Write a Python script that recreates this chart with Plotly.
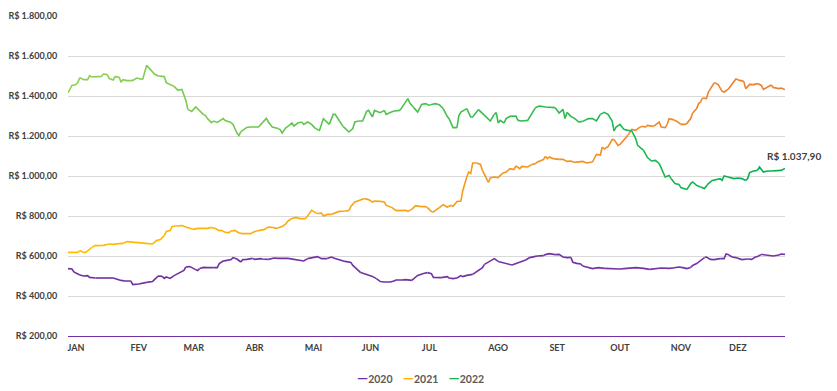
import plotly.graph_objects as go

# Daily average price, (day of year, R$) pairs, one list per year
PRICE_2020 = [
    (0, 537), (2, 535), (3, 520), (5, 512), (6, 505), (8, 500), (10, 502), (11, 493), (14, 490),
    (16, 490), (19, 488), (21, 488), (23, 490), (26, 478), (27, 478), (29, 475), (32, 475),
    (33, 457), (36, 460), (38, 465), (40, 468), (43, 472), (44, 482), (46, 500), (48, 498),
    (49, 488), (50, 495), (52, 488), (54, 502), (55, 507), (57, 517), (59, 528), (60, 545),
    (62, 547), (64, 537), (66, 527), (67, 537), (69, 543), (71, 542), (72, 543), (74, 542),
    (76, 542), (77, 562), (79, 575), (81, 578), (83, 582), (84, 592), (86, 585), (88, 570),
    (89, 582), (91, 583), (93, 585), (94, 588), (95, 583), (98, 587), (99, 585), (102, 583),
    (105, 590), (107, 588), (110, 587), (112, 588), (115, 583), (117, 578), (120, 575),
    (122, 587), (125, 592), (127, 597), (129, 587), (132, 587), (134, 595), (136, 587),
    (138, 580), (141, 573), (144, 568), (145, 553), (147, 533), (149, 517), (151, 510),
    (153, 505), (155, 498), (157, 487), (159, 472), (161, 470), (164, 470), (166, 475),
    (167, 480), (170, 480), (172, 482), (175, 478), (177, 492), (178, 503), (181, 513),
    (183, 517), (185, 512), (186, 493), (188, 492), (190, 492), (193, 497), (194, 490),
    (196, 487), (198, 490), (200, 502), (201, 497), (203, 503), (206, 508), (207, 515),
    (209, 527), (211, 542), (212, 558), (214, 570), (216, 580), (217, 587), (219, 573),
    (221, 568), (222, 568), (224, 562), (226, 555), (228, 562), (229, 568), (231, 575),
    (233, 580), (235, 592), (238, 598), (239, 600), (242, 602), (243, 607), (245, 612),
    (247, 608), (248, 607), (250, 608), (252, 595), (254, 592), (256, 593), (257, 568),
    (259, 563), (261, 560), (262, 550), (265, 542), (267, 537), (270, 542), (273, 538),
    (275, 537), (278, 537), (281, 535), (283, 537), (286, 540), (289, 542), (293, 538),
    (296, 533), (299, 538), (302, 540), (306, 538), (308, 540), (311, 545), (313, 542),
    (315, 537), (317, 543), (318, 553), (320, 562), (322, 575), (324, 592), (325, 595),
    (327, 583), (329, 582), (332, 587), (334, 587), (335, 610), (336, 608), (338, 595),
    (340, 592), (343, 582), (345, 582), (346, 585), (348, 583), (350, 595), (351, 598),
    (353, 608), (355, 605), (357, 605), (359, 600), (362, 605), (363, 610), (365, 608),
]

PRICE_2021 = [
    (0, 618), (2, 618), (4, 615), (5, 618), (6, 627), (8, 618), (9, 618), (11, 633), (12, 642),
    (14, 653), (15, 652), (18, 653), (21, 660), (23, 658), (26, 662), (28, 663), (30, 672),
    (32, 670), (36, 668), (38, 665), (41, 662), (43, 660), (45, 677), (47, 682), (49, 702),
    (50, 723), (52, 727), (53, 748), (55, 750), (58, 752), (60, 745), (62, 737), (64, 733),
    (66, 738), (68, 738), (71, 738), (73, 743), (75, 737), (77, 727), (78, 728), (80, 718),
    (82, 717), (83, 725), (85, 728), (87, 715), (89, 712), (93, 712), (94, 718), (96, 725),
    (99, 732), (100, 733), (102, 745), (104, 743), (106, 738), (109, 747), (111, 762),
    (112, 775), (114, 788), (116, 793), (118, 787), (121, 787), (122, 800), (124, 828),
    (126, 817), (127, 812), (129, 815), (130, 800), (132, 808), (134, 808), (136, 817),
    (138, 823), (141, 825), (143, 827), (144, 848), (146, 870), (149, 878), (151, 887),
    (153, 882), (155, 870), (156, 875), (159, 873), (161, 870), (162, 853), (165, 842),
    (167, 827), (170, 828), (172, 828), (173, 823), (175, 833), (177, 852), (179, 848),
    (182, 847), (183, 842), (185, 822), (186, 820), (188, 837), (189, 842), (191, 857),
    (193, 845), (195, 853), (196, 848), (198, 873), (200, 875), (201, 928), (203, 995),
    (204, 1020), (205, 1012), (206, 1065), (208, 1065), (210, 1058), (211, 1028), (213, 987),
    (214, 968), (215, 990), (217, 995), (219, 992), (221, 1012), (223, 1020), (225, 1037),
    (227, 1032), (228, 1050), (230, 1037), (231, 1048), (234, 1045), (236, 1057), (238, 1062),
    (239, 1070), (242, 1082), (243, 1098), (244, 1087), (245, 1095), (247, 1087), (250, 1083),
    (252, 1083), (254, 1073), (256, 1075), (258, 1068), (260, 1072), (262, 1073), (264, 1065),
    (267, 1070), (268, 1087), (269, 1108), (271, 1105), (272, 1145), (273, 1135), (275, 1148),
    (277, 1182), (278, 1182), (280, 1153), (281, 1158), (284, 1192), (285, 1203), (287, 1233),
    (289, 1228), (290, 1237), (292, 1248), (294, 1245), (295, 1253), (297, 1248), (298, 1248),
    (301, 1270), (302, 1245), (304, 1242), (305, 1258), (306, 1287), (308, 1282), (310, 1273),
    (312, 1258), (314, 1258), (315, 1262), (317, 1287), (318, 1315), (320, 1337), (321, 1362),
    (322, 1370), (323, 1390), (325, 1387), (326, 1420), (328, 1448), (329, 1467), (331, 1457),
    (333, 1423), (334, 1420), (336, 1433), (338, 1462), (340, 1485), (342, 1478), (344, 1473),
    (345, 1437), (347, 1458), (349, 1457), (351, 1462), (353, 1453), (354, 1433), (356, 1445),
    (358, 1455), (359, 1442), (362, 1437), (363, 1440), (365, 1432),
]

PRICE_2022 = [
    (0, 1415), (2, 1453), (4, 1457), (5, 1467), (6, 1492), (8, 1482), (10, 1482), (11, 1502),
    (12, 1495), (15, 1498), (17, 1498), (18, 1510), (20, 1507), (21, 1487), (23, 1480),
    (24, 1497), (26, 1495), (27, 1469), (28, 1482), (30, 1477), (32, 1477), (33, 1478),
    (35, 1490), (36, 1488), (38, 1482), (40, 1553), (42, 1532), (44, 1510), (46, 1500),
    (49, 1497), (50, 1467), (52, 1457), (54, 1448), (56, 1428), (58, 1433), (60, 1378),
    (61, 1333), (63, 1323), (65, 1345), (67, 1328), (69, 1307), (70, 1302), (71, 1287),
    (73, 1267), (74, 1275), (76, 1268), (79, 1287), (80, 1277), (83, 1267), (84, 1258),
    (86, 1215), (87, 1202), (88, 1222), (91, 1243), (93, 1245), (97, 1245), (99, 1267),
    (101, 1288), (102, 1270), (104, 1245), (107, 1237), (108, 1232), (109, 1215), (111, 1242),
    (112, 1248), (114, 1265), (115, 1250), (117, 1265), (119, 1270), (120, 1258), (122, 1270),
    (124, 1258), (126, 1237), (128, 1228), (130, 1287), (132, 1270), (133, 1258), (135, 1308),
    (136, 1308), (138, 1275), (140, 1248), (143, 1220), (145, 1237), (146, 1270), (148, 1275),
    (150, 1275), (152, 1323), (153, 1328), (155, 1295), (156, 1328), (158, 1320), (159, 1317),
    (161, 1328), (162, 1308), (164, 1317), (166, 1325), (169, 1328), (171, 1358), (173, 1387),
    (174, 1365), (176, 1342), (178, 1320), (180, 1358), (182, 1362), (184, 1353), (185, 1358),
    (187, 1362), (189, 1357), (191, 1337), (193, 1298), (194, 1287), (196, 1242), (198, 1242),
    (199, 1303), (200, 1320), (202, 1332), (203, 1337), (205, 1295), (206, 1295), (208, 1320),
    (209, 1332), (211, 1312), (213, 1292), (215, 1275), (217, 1308), (218, 1317), (219, 1265),
    (220, 1278), (222, 1265), (223, 1287), (225, 1298), (228, 1300), (229, 1278), (231, 1275),
    (234, 1278), (236, 1307), (238, 1342), (240, 1350), (243, 1345), (245, 1345), (248, 1342),
    (250, 1315), (252, 1333), (253, 1287), (254, 1318), (256, 1298), (258, 1287), (260, 1270),
    (262, 1273), (265, 1287), (267, 1287), (269, 1275), (271, 1308), (273, 1318), (275, 1307),
    (277, 1275), (278, 1225), (279, 1245), (281, 1258), (283, 1233), (285, 1228), (287, 1225),
    (289, 1187), (290, 1153), (293, 1128), (295, 1092), (297, 1075), (299, 1078), (301, 1062),
    (302, 1037), (304, 995), (306, 1003), (307, 987), (309, 962), (311, 958), (312, 942),
    (315, 932), (317, 962), (318, 970), (320, 953), (322, 945), (324, 937), (326, 962),
    (328, 978), (330, 982), (332, 987), (333, 978), (334, 1000), (336, 995), (339, 987),
    (341, 990), (343, 987), (345, 978), (346, 987), (347, 1017), (349, 1025), (351, 1028),
    (352, 1045), (354, 1020), (356, 1025), (358, 1025), (361, 1025), (363, 1028), (365, 1037.90),
]

YEARS = ["2020", "2021", "2022"]
SERIES = {"2020": PRICE_2020, "2021": PRICE_2021, "2022": PRICE_2022}

# start / end colour of each year's line (drawn as a left-to-right gradient)
COLOR_RAMPS = {
    "2020": ("#7030A0", "#7434A6"),
    "2021": ("#FFC000", "#ED7D31"),
    "2022": ("#92D050", "#00B050"),
}
LEGEND_COLORS = {"2020": "#7030A0", "2021": "#FFB000", "2022": "#13B44C"}

MONTHS = ["JAN", "FEV", "MAR", "ABR", "MAI", "JUN", "JUL", "AGO", "SET", "OUT", "NOV", "DEZ"]
MONTH_TICK_DAYS = [4, 36, 64, 95, 125, 154, 184, 219, 249, 281, 312, 341]
Y_TICKS = [200, 400, 600, 800, 1000, 1200, 1400, 1600, 1800]

FONT = "Lato"
TEXT_COLOR = "#404040"


def brl(value):
    """Format a number as Brazilian currency, e.g. R$ 1.037,90."""
    s = f"{value:,.2f}"
    return "R$ " + s.replace(",", "#").replace(".", ",").replace("#", ".")


def mix(c1, c2, t):
    a = [int(c1[i:i + 2], 16) for i in (1, 3, 5)]
    b = [int(c2[i:i + 2], 16) for i in (1, 3, 5)]
    return "#" + "".join(f"{round(x + (y - x) * t):02X}" for x, y in zip(a, b))


fig = go.Figure()

CHUNK = 4
for year in YEARS:
    pts = SERIES[year]
    start, end = COLOR_RAMPS[year]
    for i in range(0, len(pts) - 1, CHUNK):
        seg = pts[i:i + CHUNK + 1]
        xs = [p[0] for p in seg]
        ys = [p[1] for p in seg]
        t = (sum(xs) / len(xs)) / 365
        fig.add_trace(go.Scatter(
            x=xs, y=ys, mode="lines",
            line=dict(color=mix(start, end, t), width=1.6),
            showlegend=False, hoverinfo="skip",
        ))

# compact legend: a short coloured dash in front of each year
legend_html = "\u00a0\u00a0\u00a0\u00a0".join(
    f"<span style='color:{LEGEND_COLORS[y]};font-size:14px'>\u2014</span>{y}" for y in YEARS
)
fig.add_annotation(
    xref="paper", yref="paper", x=0.4916, y=-0.131, xanchor="center", yanchor="middle",
    text=legend_html, showarrow=False,
    font=dict(family=FONT, size=10.5, color="#595959", weight="bold"),
)

# value label at the last point of the current year
last_day, last_price = PRICE_2022[-1]
fig.add_annotation(
    x=last_day, y=last_price, text=brl(last_price), showarrow=False,
    xanchor="center", yanchor="bottom", xshift=9, yshift=4,
    font=dict(family=FONT, size=10, color=TEXT_COLOR, weight="bold"),
)

fig.update_layout(
    width=837, height=391,
    margin=dict(l=68, r=52, t=16, b=55, autoexpand=False),
    paper_bgcolor="white", plot_bgcolor="white",
    showlegend=False,
    xaxis=dict(
        range=[0, 365], tickmode="array", tickvals=MONTH_TICK_DAYS, ticktext=MONTHS,
        tickangle=0, automargin=False,
        showgrid=False, zeroline=False,
        showline=True, linecolor="#7030A0", linewidth=1.2,
        ticks="outside", ticklen=3, tickcolor="rgba(0,0,0,0)",
        tickfont=dict(family=FONT, size=9, color=TEXT_COLOR, weight="bold"),
    ),
    yaxis=dict(
        range=[200, 1800], tickmode="array", tickvals=Y_TICKS,
        ticktext=[brl(v) for v in Y_TICKS], automargin=False,
        showgrid=True, gridcolor="#D9D9D9", gridwidth=1, zeroline=False,
        ticks="outside", ticklen=8, tickcolor="rgba(0,0,0,0)",
        tickfont=dict(family=FONT, size=9, color=TEXT_COLOR, weight="bold"),
    ),
)

fig.write_html("out.html")
